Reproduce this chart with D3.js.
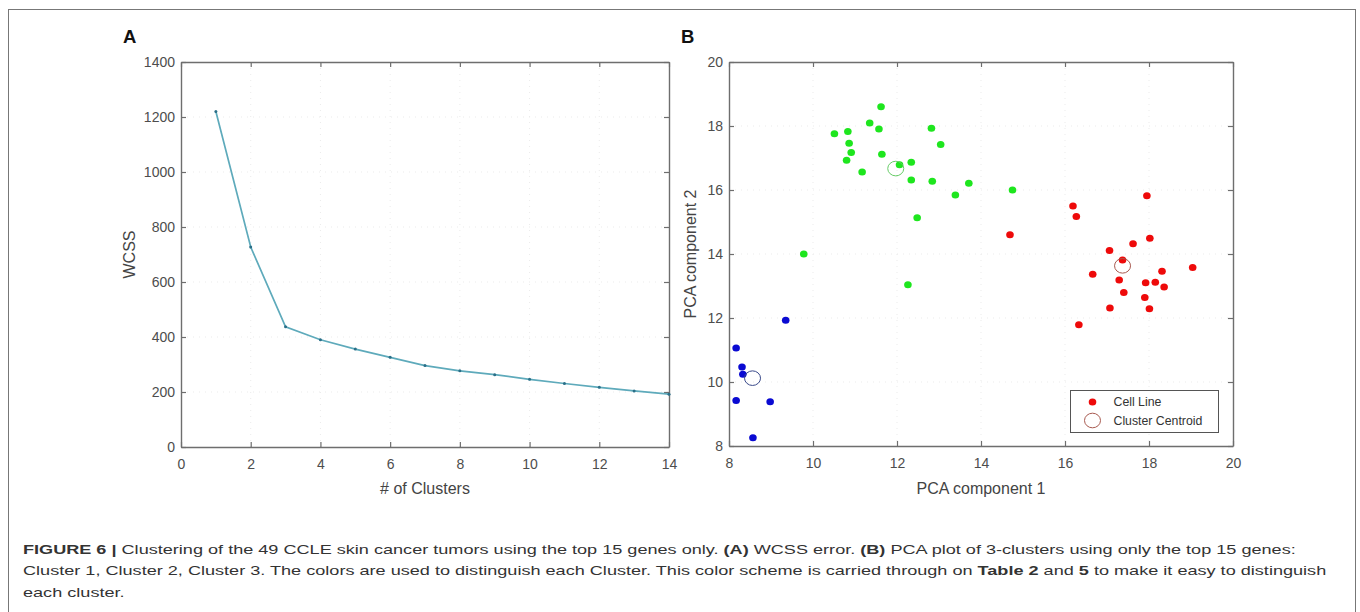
<!DOCTYPE html>
<html><head><meta charset="utf-8">
<script src="https://cdn.jsdelivr.net/npm/d3@7"></script>
<style>
body{margin:0;background:#fff;}
svg{display:block;font-family:"Liberation Sans",Arial,sans-serif;}
</style></head>
<body><svg id="c" width="1360" height="612"></svg>
<script>
// ---- Data ----
const kValues = [1,2,3,4,5,6,7,8,9,10,11,12,13,14];
const wcssValues = [1220,727,437,390,356,326,296,277,263,246,231,217,204,192];
const xTicksA = [0,2,4,6,8,10,12,14];
const yTicksA = [0,200,400,600,800,1000,1200,1400];

const greenX = [10.51,10.83,10.86,10.91,10.80,11.17,11.35,11.62,11.57,11.64,12.06,12.34,12.34,12.82,13.04,12.84,12.48,13.39,13.71,14.75,9.78,12.26];
const greenY = [17.76,17.83,17.46,17.17,16.93,16.56,18.09,18.60,17.91,17.12,16.79,16.87,16.31,17.93,17.42,16.27,15.13,15.84,16.21,16.00,14.00,13.04];
const redX = [16.19,16.27,14.69,17.95,18.02,17.62,17.06,17.37,16.66,17.29,17.92,18.15,18.31,18.36,19.04,17.40,17.90,17.07,18.01,16.33];
const redY = [15.50,15.17,14.60,15.82,14.49,14.32,14.11,13.81,13.37,13.19,13.10,13.12,13.46,12.97,13.58,12.80,12.64,12.31,12.29,11.79];
const blueX = [9.35,8.17,8.31,8.33,8.17,8.98,8.57];
const blueY = [11.93,11.06,10.47,10.24,9.42,9.38,8.26];
const centroidX = [11.97,17.37,8.56];
const centroidY = [16.67,13.63,10.12];
const clusterNames = ["green","red","blue"];
const xTicksB = [8,10,12,14,16,18,20];
const yTicksB = [8,10,12,14,16,18,20];
const legendLabels = ["Cell Line","Cluster Centroid"];
const captionLines = [
  [{b:true,t:"FIGURE 6 | "},{t:"Clustering of the 49 CCLE skin cancer tumors using the top 15 genes only. "},{b:true,t:"(A)"},{t:" WCSS error. "},{b:true,t:"(B)"},{t:" PCA plot of 3-clusters using only the top 15 genes:"}],
  [{t:"Cluster 1, Cluster 2, Cluster 3. The colors are used to distinguish each Cluster. This color scheme is carried through on "},{b:true,t:"Table 2"},{t:" and "},{b:true,t:"5"},{t:" to make it easy to distinguish"}],
  [{t:"each cluster."}]
];

// ---- Styles ----
const dotColor = {green:"#1ee61e", red:"#ee0a0a", blue:"#0a0ad2"};
const centColor = {green:"#66cc66", red:"#a85a50", blue:"#3a4a8a"};
const axisCol = "#6e6e6e", labelCol = "#4d4d4d";

const svg = d3.select("#c");
// outer frame
svg.append("rect").attr("x",8.5).attr("y",9.5).attr("width",1347).attr("height",620)
  .attr("fill","none").attr("stroke","#777").attr("stroke-width",1);

function frame(g, x, y, xt, yt, w, h){
  g.append("g").selectAll("line").data(xt.slice(1,-1)).join("line")
    .attr("x1",d=>x(d)).attr("x2",d=>x(d)).attr("y1",0).attr("y2",h)
    .attr("stroke","#ebebeb").attr("stroke-dasharray","1,5");
  g.append("g").selectAll("line").data(yt.slice(1,-1)).join("line")
    .attr("y1",d=>y(d)).attr("y2",d=>y(d)).attr("x1",0).attr("x2",w)
    .attr("stroke","#ebebeb").attr("stroke-dasharray","1,5");
  const fmt = d3.format("d");
  const ax = [
    g.append("g").attr("transform",`translate(0,${h})`).call(d3.axisBottom(x).tickValues(xt).tickFormat(fmt).tickSize(-5).tickSizeOuter(0).tickPadding(12)),
    g.append("g").call(d3.axisLeft(y).tickValues(yt).tickFormat(fmt).tickSize(-5).tickSizeOuter(0).tickPadding(6)),
    g.append("g").call(d3.axisTop(x).tickValues(xt).tickSize(-5).tickSizeOuter(0).tickFormat("")),
    g.append("g").attr("transform",`translate(${w},0)`).call(d3.axisRight(y).tickValues(yt).tickSize(-5).tickSizeOuter(0).tickFormat(""))
  ];
  ax.forEach(a=>{
    a.select(".domain").attr("stroke",axisCol).attr("stroke-width",1.4);
    a.selectAll(".tick line").attr("stroke",axisCol).attr("stroke-width",1.2);
    a.selectAll(".tick text").attr("fill",labelCol).attr("font-size",14).attr("font-family","Liberation Sans, Arial, sans-serif");
  });
}

// ---- Panel A ----
const A = {l:181, t:62, r:669, b:447};
const wA = A.r-A.l, hA = A.b-A.t;
const xA = d3.scaleLinear().domain([0,14]).range([0,wA]);
const yA = d3.scaleLinear().domain([0,1400]).range([hA,0]);
const gA = svg.append("g").attr("transform",`translate(${A.l},${A.t})`);
frame(gA, xA, yA, xTicksA, yTicksA, wA, hA);
const ptsA = kValues.map((k,i)=>[k,wcssValues[i]]);
gA.append("path").datum(ptsA).attr("fill","none").attr("stroke","#5eaabb").attr("stroke-width",1.7)
  .attr("d",d3.line().x(d=>xA(d[0])).y(d=>yA(d[1])));
gA.selectAll("circle.m").data(ptsA).join("circle").attr("cx",d=>xA(d[0])).attr("cy",d=>yA(d[1]))
  .attr("r",1.5).attr("fill","#2a6f88");
svg.append("text").attr("x",123).attr("y",43).text("A").attr("font-weight","bold").attr("font-size",18.5).attr("fill","#111");
svg.append("text").attr("transform",`translate(135,${A.t+hA/2}) rotate(-90)`).attr("text-anchor","middle")
  .attr("font-size",16).attr("fill","#444").text("WCSS");
svg.append("text").attr("x",A.l+wA/2).attr("y",494).attr("text-anchor","middle")
  .attr("font-size",16).attr("fill","#444").text("# of Clusters");

// ---- Panel B ----
const B = {l:729, t:62, r:1233, b:446};
const wB = B.r-B.l, hB = B.b-B.t;
const xB = d3.scaleLinear().domain([8,20]).range([0,wB]);
const yB = d3.scaleLinear().domain([8,20]).range([hB,0]);
const gB = svg.append("g").attr("transform",`translate(${B.l},${B.t})`);
frame(gB, xB, yB, xTicksB, yTicksB, wB, hB);
const clusters = {
  green: greenX.map((v,i)=>[v,greenY[i]]),
  red: redX.map((v,i)=>[v,redY[i]]),
  blue: blueX.map((v,i)=>[v,blueY[i]])
};
clusterNames.forEach((c,ci)=>{
  gB.append("g").selectAll("ellipse").data(clusters[c]).join("ellipse")
    .attr("cx",d=>xB(d[0])).attr("cy",d=>yB(d[1])).attr("rx",3.8).attr("ry",3.5).attr("fill",dotColor[c]);
  gB.append("ellipse").attr("cx",xB(centroidX[ci])).attr("cy",yB(centroidY[ci])).attr("rx",8).attr("ry",7.3)
    .attr("fill","none").attr("stroke",centColor[c]).attr("stroke-width",1);
});
svg.append("text").attr("x",681).attr("y",43).text("B").attr("font-weight","bold").attr("font-size",18.5).attr("fill","#111");
svg.append("text").attr("transform",`translate(696,${B.t+hB/2}) rotate(-90)`).attr("text-anchor","middle")
  .attr("font-size",16).attr("fill","#444").text("PCA component 2");
svg.append("text").attr("x",B.l+wB/2).attr("y",494).attr("text-anchor","middle")
  .attr("font-size",16).attr("fill","#444").text("PCA component 1");

// legend
const lg = svg.append("g").attr("transform","translate(1070,390)");
lg.append("rect").attr("x",0.5).attr("y",0.5).attr("width",148).attr("height",42)
  .attr("fill","#fff").attr("stroke","#555").attr("stroke-width",1);
lg.append("ellipse").attr("cx",22.5).attr("cy",12).attr("rx",3.8).attr("ry",3.5).attr("fill",dotColor.red);
lg.append("ellipse").attr("cx",22.5).attr("cy",30.5).attr("rx",8).attr("ry",7.3).attr("fill","none").attr("stroke",centColor.red).attr("stroke-width",1);
lg.selectAll("text").data(legendLabels).join("text").attr("x",43.5).attr("y",(d,i)=>16+i*19)
  .attr("font-size",12.3).attr("fill","#333").text(d=>d);

// ---- Caption ----
const cap = svg.append("g");
const capTexts = captionLines.map((line,i)=>{
  const t = cap.append("text").attr("x",0).attr("y",554+i*21.5).attr("font-size",13.6).attr("fill","#333");
  line.forEach(s=>{ t.append("tspan").attr("font-weight",s.b?"bold":null).text(s.t); });
  return t;
});
const w1 = capTexts[0].node().getComputedTextLength();
const k = 1273 / w1;
cap.attr("transform",`translate(23,0) scale(${k},1)`);
</script></body></html>
